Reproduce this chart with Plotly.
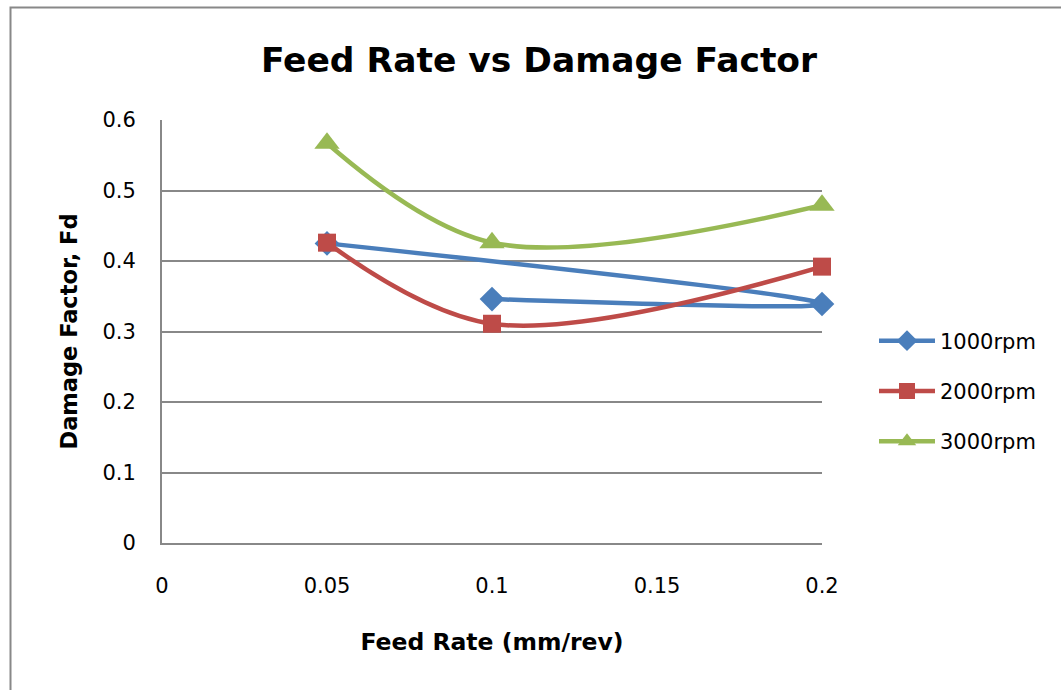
import plotly.graph_objects as go

# Data
x_1000 = [0.1, 0.2, 0.05]
y_1000 = [0.346, 0.339, 0.425]
x_2000 = [0.05, 0.1, 0.2]
y_2000 = [0.426, 0.311, 0.392]
x_3000 = [0.05, 0.1, 0.2]
y_3000 = [0.567, 0.426, 0.479]

FONT = "DejaVu Sans"

fig = go.Figure()
fig.add_trace(go.Scatter(x=x_1000, y=y_1000, name="1000rpm", mode="lines+markers",
                         line=dict(color="#4A7EBB", width=4.5, shape="spline", smoothing=1),
                         marker=dict(symbol="diamond", size=19, color="#4A7EBB"),
                         legendgroup="a", cliponaxis=False))
fig.add_trace(go.Scatter(x=x_2000, y=y_2000, name="2000rpm", mode="lines+markers",
                         line=dict(color="#BE4B48", width=4.5, shape="spline", smoothing=1),
                         marker=dict(symbol="square", size=18, color="#BE4B48"),
                         legendgroup="b", cliponaxis=False))
fig.add_trace(go.Scatter(x=x_3000, y=y_3000, name="3000rpm", mode="lines+markers",
                         line=dict(color="#98B954", width=4.5, shape="spline", smoothing=1),
                         marker=dict(symbol="triangle-up", size=22, color="#98B954"),
                         legendgroup="c", cliponaxis=False))

L, R, T, B = 162, 822, 120, 543
W, H = 1061, 690
pw, ph = R - L, B - T

fig.update_layout(
    width=W, height=H,
    margin=dict(l=L, r=W - R, t=T, b=H - B),
    paper_bgcolor="white", plot_bgcolor="white",
    font=dict(family=FONT, size=21, color="black"),
    title=dict(text="<b>Feed Rate vs Damage Factor</b>", x=(539 - L) / pw, xref="paper",
               xanchor="center", y=1 - 60 / H, yanchor="middle",
               font=dict(size=34.5, family=FONT)),
    xaxis=dict(range=[0, 0.2], tickvals=[0, 0.05, 0.1, 0.15, 0.2],
               ticktext=["0", "0.05", "0.1", "0.15", "0.2"],
               showgrid=False, showline=True, linecolor="#888888", linewidth=2,
               zeroline=False, ticks="outside", ticklen=23, tickcolor="rgba(0,0,0,0)",
               title=dict(text="<b>Feed Rate (mm/rev)</b>", font=dict(size=23.5), standoff=36),
               tickfont=dict(size=21)),
    yaxis=dict(range=[0, 0.6], tickvals=[0, 0.1, 0.2, 0.3, 0.4, 0.5, 0.6],
               ticktext=["0", "0.1", "0.2", "0.3", "0.4", "0.5", "0.6"],
               showgrid=True, gridcolor="#888888", gridwidth=2,
               showline=True, linecolor="#888888", linewidth=2, zeroline=False,
               ticks="outside", ticklen=20, tickcolor="rgba(0,0,0,0)",
               title=dict(text="<b>Damage Factor, Fd</b>", font=dict(size=22.5), standoff=19),
               tickfont=dict(size=21)),
    legend=dict(x=(874 - L) / pw, xanchor="left", y=(B - 391) / ph, yanchor="middle",
                traceorder="grouped", tracegroupgap=20, font=dict(size=21),
                bgcolor="rgba(0,0,0,0)", itemwidth=56),
    showlegend=True,
    shapes=[dict(type="rect", xref="paper", yref="paper",
                 x0=(10.5 - L) / pw, x1=(W + 20 - L) / pw,
                 y0=(B - H - 20) / ph, y1=(B - 7.5) / ph,
                 line=dict(color="#888888", width=2), fillcolor="rgba(0,0,0,0)", layer="below")],
)

fig.write_html("out.html")
